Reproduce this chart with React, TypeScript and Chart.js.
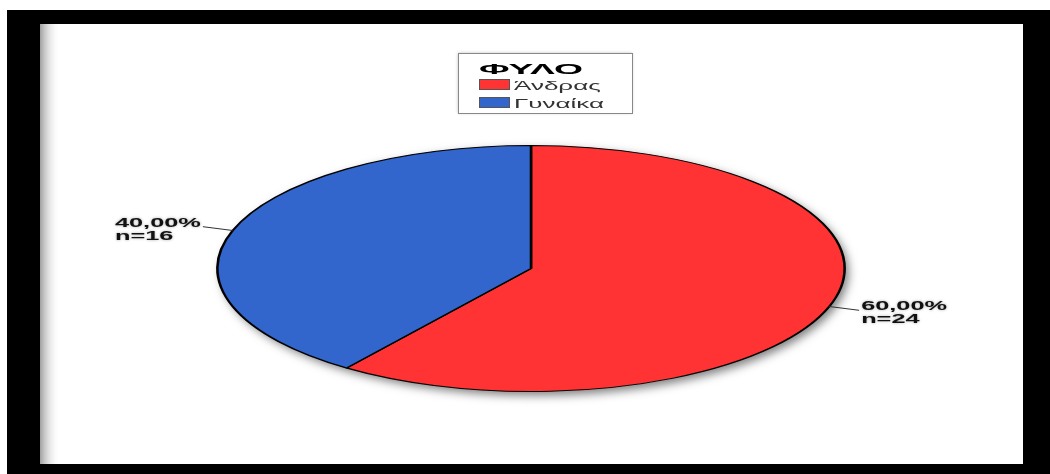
import React, { useEffect, useRef } from "react";
import { Chart, registerables } from "chart.js";

Chart.register(...registerables);

// ---- data ----
const legendTitle = "ΦΥΛΟ";
const categories = ["Άνδρας", "Γυναίκα"];
const counts = [24, 16];
const sliceColors = ["#FF3333", "#3366CC"];

// ---- styling / layout constants ----
const W = 1050;
const H = 474;
const ELLIPSE_SX = 2.55; // horizontal stretch of the pie
const FONT = '"Liberation Sans", Arial, sans-serif';

function scaledText(ctx: CanvasRenderingContext2D, text: string, x: number, y: number, sx: number, align: CanvasTextAlign) {
  ctx.save();
  ctx.translate(x, y);
  ctx.scale(sx, 1);
  ctx.textAlign = align;
  ctx.textBaseline = "alphabetic";
  ctx.fillText(text, 0, 0);
  ctx.restore();
}

const framePlugin = {
  id: "frame",
  beforeDraw(chart: any) {
    const ctx: CanvasRenderingContext2D = chart.ctx;
    ctx.save();
    ctx.fillStyle = "#ffffff";
    ctx.fillRect(0, 0, W, H);
    ctx.fillStyle = "#000000";
    ctx.fillRect(7, 10, W - 7, H - 10);
    ctx.fillStyle = "#ffffff";
    ctx.fillRect(40, 24, 983, 440);
    const g = ctx.createLinearGradient(40, 0, 60, 0);
    g.addColorStop(0, "#a0a0a0");
    g.addColorStop(1, "rgba(255,255,255,0)");
    ctx.fillStyle = g;
    ctx.fillRect(40, 24, 20, 440);
    ctx.restore();
  },
};

const ellipsePlugin = {
  id: "ellipse",
  beforeDatasetsDraw(chart: any) {
    const ctx: CanvasRenderingContext2D = chart.ctx;
    const arc = chart.getDatasetMeta(0).data[0];
    if (!arc) return;
    const cx = arc.x, cy = arc.y, r = arc.outerRadius;
    // soft drop shadow under the whole pie
    ctx.save();
    ctx.beginPath();
    ctx.ellipse(cx, cy, r * ELLIPSE_SX, r, 0, 0, Math.PI * 2);
    ctx.fillStyle = "#ffffff";
    ctx.shadowColor = "rgba(0,0,0,0.5)";
    ctx.shadowBlur = 10;
    ctx.shadowOffsetX = 4;
    ctx.shadowOffsetY = 4;
    ctx.fill();
    ctx.restore();
    ctx.save();
    ctx.translate(cx, cy);
    ctx.scale(ELLIPSE_SX, 1);
    ctx.translate(-cx, -cy);
  },
  afterDatasetsDraw(chart: any) {
    const ctx: CanvasRenderingContext2D = chart.ctx;
    const meta = chart.getDatasetMeta(0);
    if (!meta.data[0]) return;
    ctx.restore();

    const values: number[] = chart.data.datasets[0].data;
    const total = values.reduce((a, b) => a + b, 0);
    meta.data.forEach((arc: any, i: number) => {
      const mid = (arc.startAngle + arc.endAngle) / 2;
      const rx = arc.outerRadius * ELLIPSE_SX;
      const ry = arc.outerRadius;
      const ex = arc.x + Math.cos(mid) * rx;
      const ey = arc.y + Math.sin(mid) * ry;
      const lx = ex + Math.cos(mid) * rx * 0.1;
      const ly = ey + Math.sin(mid) * ry * 0.1;
      ctx.save();
      ctx.strokeStyle = "#333333";
      ctx.lineWidth = 1;
      ctx.beginPath();
      ctx.moveTo(ex, ey);
      ctx.lineTo(lx, ly);
      ctx.stroke();

      const pct = ((values[i] / total) * 100).toFixed(2).replace(".", ",") + "%";
      const nTxt = "n=" + values[i];
      ctx.font = `bold 13px ${FONT}`;
      ctx.fillStyle = "#111111";
      ctx.shadowColor = "rgba(0,0,0,0.35)";
      ctx.shadowBlur = 3;
      const sx = 1.95;
      const w1 = ctx.measureText(pct).width * sx;
      const left = Math.cos(mid) < 0 ? lx - 2 - w1 : lx + 2;
      scaledText(ctx, pct, left, ly, sx, "left");
      scaledText(ctx, nTxt, left, ly + 13, sx, "left");
      ctx.restore();
    });
  },
};

const legendPlugin = {
  id: "customLegend",
  afterDraw(chart: any) {
    const ctx: CanvasRenderingContext2D = chart.ctx;
    const labels: string[] = chart.data.labels;
    const colors: string[] = chart.data.datasets[0].backgroundColor;
    const bx = 458, by = 53, bw = 174, bh = 60;
    ctx.save();
    ctx.fillStyle = "#ffffff";
    ctx.shadowColor = "rgba(0,0,0,0.25)";
    ctx.shadowBlur = 3;
    ctx.fillRect(bx, by, bw, bh);
    ctx.shadowColor = "transparent";
    ctx.strokeStyle = "#888888";
    ctx.lineWidth = 1;
    ctx.strokeRect(bx + 0.5, by + 0.5, bw, bh);

    ctx.fillStyle = "#000000";
    ctx.font = `bold 14px ${FONT}`;
    const tw = ctx.measureText(legendTitle).width;
    scaledText(ctx, legendTitle, 479, 74, 104 / tw, "left");

    labels.forEach((lab, i) => {
      const y = 79 + i * 18;
      ctx.fillStyle = colors[i];
      ctx.fillRect(479, y, 31, 11);
      ctx.strokeStyle = "#555555";
      ctx.strokeRect(479.5, y + 0.5, 30, 10);
      ctx.fillStyle = "#333333";
      ctx.font = `13px ${FONT}`;
      scaledText(ctx, lab, 514, y + 11, 2.0, "left");
    });
    ctx.restore();
  },
};

export default function App() {
  const ref = useRef<HTMLCanvasElement>(null);
  useEffect(() => {
    const chart = new Chart(ref.current as HTMLCanvasElement, {
      type: "pie",
      data: {
        labels: categories,
        datasets: [
          {
            data: counts,
            backgroundColor: sliceColors,
            borderColor: "#000000",
            borderWidth: 1,
            clip: false,
          } as any,
        ],
      },
      options: {
        responsive: false,
        animation: false,
        events: [],
        layout: { padding: { top: 145, bottom: 82, left: 401, right: 389 } },
        plugins: {
          legend: { display: false },
          tooltip: { enabled: false },
          title: { display: false },
        },
      },
      plugins: [framePlugin, ellipsePlugin, legendPlugin],
    });
    return () => chart.destroy();
  }, []);
  return (
    <div style={{ position: "absolute", left: 0, top: 0, width: W, height: H }}>
      <canvas ref={ref} width={W} height={H} style={{ display: "block" }} />
    </div>
  );
}
